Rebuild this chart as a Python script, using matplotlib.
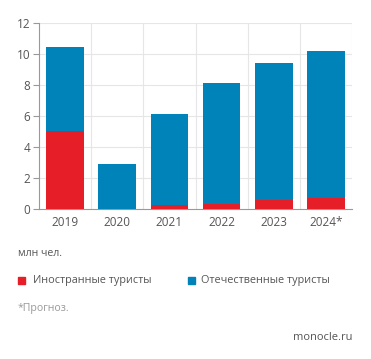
import numpy as np
import matplotlib.pyplot as plt
import matplotlib.patches as mpatches

years = ['2019', '2020', '2021', '2022', '2023', '2024*']
foreign = [5.0, 0.0, 0.25, 0.35, 0.55, 0.7]
total = [10.4, 2.9, 6.1, 8.1, 9.4, 10.2]
domestic = [t - f for t, f in zip(total, foreign)]

red = '#e51e27'
blue = '#0083b8'
txt = '#555555'
grid = '#e6e6e6'

plt.rcParams['font.family'] = ['Open Sans', 'DejaVu Sans']

fig = plt.figure(figsize=(3.71, 3.59), dpi=100)
ax = fig.add_axes([0.105, 0.418, 0.844, 0.519])

x = np.arange(len(years))
ax.bar(x, foreign, width=0.72, color=red, zorder=3)
ax.bar(x, domestic, width=0.72, bottom=foreign, color=blue, zorder=3)

ax.set_xlim(-0.5, 5.5)
ax.set_ylim(0, 12)
ax.set_yticks(range(0, 13, 2))
ax.set_xticks(x)
ax.set_xticklabels(years)
for b in np.arange(0.5, 5.5, 1.0):
    ax.axvline(b, color=grid, lw=0.8, zorder=0)
ax.axvline(5.5, color=grid, lw=0.8, zorder=0)
for yv in range(2, 13, 2):
    ax.axhline(yv, color=grid, lw=0.8, zorder=0)

for s in ['top', 'right']:
    ax.spines[s].set_visible(False)
ax.spines['left'].set_color('#999999')
ax.spines['bottom'].set_color('#999999')
ax.spines['left'].set_linewidth(0.8)
ax.spines['bottom'].set_linewidth(0.8)
ax.tick_params(axis='y', length=4, color='#999999', labelcolor=txt, labelsize=8.5, pad=2)
ax.tick_params(axis='x', length=0, labelcolor=txt, labelsize=8.5, pad=5)

fig.text(18/371, 1 - 253/359, 'млн чел.', color=txt, fontsize=7.6, va='center')
fig.patches.append(mpatches.Rectangle((18/371, 1 - 284/359), 7/371, 7/359,
                                      transform=fig.transFigure, color=red))
fig.text(33/371, 1 - 280/359, 'Иностранные туристы', color=txt, fontsize=7.8, va='center')
fig.patches.append(mpatches.Rectangle((188/371, 1 - 284/359), 7/371, 7/359,
                                      transform=fig.transFigure, color=blue))
fig.text(201/371, 1 - 280/359, 'Отечественные туристы', color=txt, fontsize=7.8, va='center')
fig.text(18/371, 1 - 308/359, '*Прогноз.', color='#999999', fontsize=7.6, va='center')
fig.text(352/371, 1 - 337/359, 'monocle.ru', color=txt, fontsize=8, va='center', ha='right')

fig.savefig('out.png', dpi=100)
